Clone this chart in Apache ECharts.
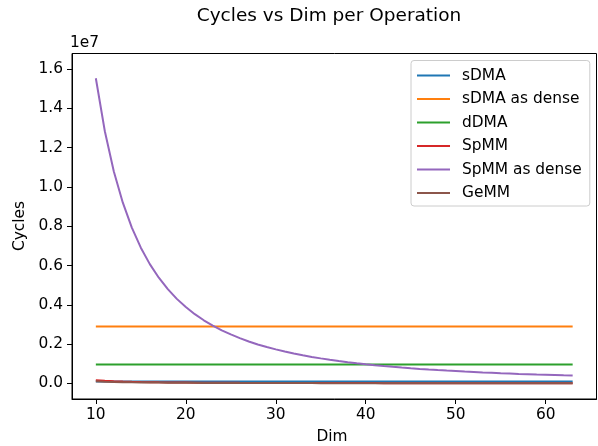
<!DOCTYPE html>
<html>
<head>
<meta charset="utf-8">
<script src="https://cdn.jsdelivr.net/npm/echarts@6/dist/echarts.min.js"></script>
<style>
  html, body { margin: 0; padding: 0; background: #fff; }
  #chart { width: 598px; height: 446px; }
</style>
</head>
<body>
<div id="chart"></div>
<script>
// dims on the x axis
var dims = [
    10, 11, 12, 13, 14, 15, 16, 17, 18,
    19, 20, 21, 22, 23, 24, 25, 26, 27,
    28, 29, 30, 31, 32, 33, 34, 35, 36,
    37, 38, 39, 40, 41, 42, 43, 44, 45,
    46, 47, 48, 49, 50, 51, 52, 53, 54,
    55, 56, 57, 58, 59, 60, 61, 62, 63
];

// cycles
var sdma = [
    9e4, 9e4, 9e4, 9e4, 9e4, 9e4, 9e4, 9e4, 9e4,
    9e4, 9e4, 9e4, 9e4, 9e4, 9e4, 9e4, 9e4, 9e4,
    9e4, 9e4, 9e4, 9e4, 9e4, 9e4, 9e4, 9e4, 9e4,
    9e4, 9e4, 9e4, 9e4, 9e4, 9e4, 9e4, 9e4, 9e4,
    9e4, 9e4, 9e4, 9e4, 9e4, 9e4, 9e4, 9e4, 9e4,
    9e4, 9e4, 9e4, 9e4, 9e4, 9e4, 9e4, 9e4, 9e4
];
var sdmaDense = [
    2.89e6, 2.89e6, 2.89e6, 2.89e6, 2.89e6, 2.89e6, 2.89e6, 2.89e6, 2.89e6,
    2.89e6, 2.89e6, 2.89e6, 2.89e6, 2.89e6, 2.89e6, 2.89e6, 2.89e6, 2.89e6,
    2.89e6, 2.89e6, 2.89e6, 2.89e6, 2.89e6, 2.89e6, 2.89e6, 2.89e6, 2.89e6,
    2.89e6, 2.89e6, 2.89e6, 2.89e6, 2.89e6, 2.89e6, 2.89e6, 2.89e6, 2.89e6,
    2.89e6, 2.89e6, 2.89e6, 2.89e6, 2.89e6, 2.89e6, 2.89e6, 2.89e6, 2.89e6,
    2.89e6, 2.89e6, 2.89e6, 2.89e6, 2.89e6, 2.89e6, 2.89e6, 2.89e6, 2.89e6
];
var ddma = [
    9.6e5, 9.6e5, 9.6e5, 9.6e5, 9.6e5, 9.6e5, 9.6e5, 9.6e5, 9.6e5,
    9.6e5, 9.6e5, 9.6e5, 9.6e5, 9.6e5, 9.6e5, 9.6e5, 9.6e5, 9.6e5,
    9.6e5, 9.6e5, 9.6e5, 9.6e5, 9.6e5, 9.6e5, 9.6e5, 9.6e5, 9.6e5,
    9.6e5, 9.6e5, 9.6e5, 9.6e5, 9.6e5, 9.6e5, 9.6e5, 9.6e5, 9.6e5,
    9.6e5, 9.6e5, 9.6e5, 9.6e5, 9.6e5, 9.6e5, 9.6e5, 9.6e5, 9.6e5,
    9.6e5, 9.6e5, 9.6e5, 9.6e5, 9.6e5, 9.6e5, 9.6e5, 9.6e5, 9.6e5
];
var spmm = [
    150000, 124000, 104000, 89000, 77000, 67000, 59000, 52000, 46000,
    42000, 38000, 34000, 31000, 28000, 26000, 24000, 22000, 21000,
    19000, 18000, 17000, 16000, 15000, 14000, 13000, 12000, 12000,
    11000, 10000, 10000, 9000, 9000, 8000, 8000, 8000, 7000,
    7000, 7000, 6000, 6000, 6000, 6000, 5000, 5000, 5000,
    5000, 5000, 4000, 4000, 4000, 4000, 4000, 4000, 4000
];
var spmmDense = [
    15.54e6, 12.84e6, 10.79e6, 9.20e6, 7.93e6, 6.91e6, 6.07e6, 5.38e6, 4.80e6,
    4.30e6, 3.885e6, 3.52e6, 3.21e6, 2.94e6, 2.70e6, 2.49e6, 2.30e6, 2.13e6,
    1.98e6, 1.85e6, 1.727e6, 1.617e6, 1.518e6, 1.427e6, 1.344e6, 1.269e6, 1.199e6,
    1.135e6, 1.076e6, 1.022e6, 0.971e6, 0.924e6, 0.881e6, 0.840e6, 0.803e6, 0.767e6,
    0.734e6, 0.703e6, 0.674e6, 0.647e6, 0.622e6, 0.597e6, 0.575e6, 0.553e6, 0.533e6,
    0.514e6, 0.496e6, 0.478e6, 0.462e6, 0.446e6, 0.432e6, 0.418e6, 0.404e6, 0.392e6
];
var gemm = [
    100000, 83000, 69000, 59000, 51000, 44000, 39000, 35000, 31000,
    28000, 25000, 23000, 21000, 19000, 17000, 16000, 15000, 14000,
    13000, 12000, 11000, 10000, 10000, 9000, 9000, 8000, 8000,
    7000, 7000, 7000, 6000, 6000, 6000, 5000, 5000, 5000,
    5000, 4000, 4000, 4000, 4000, 4000, 4000, 3000, 3000,
    3000, 3000, 3000, 3000, 3000, 3000, 3000, 3000, 2000
];

var names = ['sDMA', 'sDMA as dense', 'dDMA', 'SpMM', 'SpMM as dense', 'GeMM'];
var colors = ['#1f77b4', '#ff7f0e', '#2ca02c', '#d62728', '#9467bd', '#8c564b'];
var xTicks = [10, 20, 30, 40, 50, 60];
var yTicks = [0, 2e6, 4e6, 6e6, 8e6, 10e6, 12e6, 14e6, 16e6];

var allValues = [sdma, sdmaDense, ddma, spmm, spmmDense, gemm];

function pairs(vals) {
    return dims.map(function (d, i) { return [d, vals[i]]; });
}

var series = allValues.map(function (vals, i) {
    return {
        name: names[i],
        type: 'line',
        data: pairs(vals),
        symbol: 'none',
        showSymbol: false,
        lineStyle: { width: 2, color: colors[i] },
        itemStyle: { color: colors[i] }
    };
});

var font = 'DejaVu Sans';
var fs = 15.4;
var chart = echarts.init(document.getElementById('chart'));
chart.setOption({
    animation: false,
    color: colors,
    grid: {
        left: 72, right: 1.5, top: 53.5, bottom: 47,
        show: true, borderColor: '#000', borderWidth: 1, backgroundColor: 'transparent'
    },
    xAxis: {
        type: 'value',
        min: 7.35,
        max: 65.65,
        axisLine: { show: true, onZero: false, lineStyle: { color: '#000', width: 1 } },
        axisTick: { show: true, customValues: xTicks, length: 5, lineStyle: { color: '#000' } },
        axisLabel: {
            customValues: xTicks, margin: 8, color: '#000',
            fontFamily: font, fontSize: fs
        },
        splitLine: { show: false }
    },
    yAxis: {
        type: 'value',
        min: -0.8e6,
        max: 16.8e6,
        axisLine: { show: true, onZero: false, lineStyle: { color: '#000', width: 1 } },
        axisTick: { show: true, customValues: yTicks, length: 5, lineStyle: { color: '#000' } },
        axisLabel: {
            customValues: yTicks, margin: 9, color: '#000',
            fontFamily: font, fontSize: fs,
            formatter: function (v) { return (v / 1e7).toFixed(1); }
        },
        splitLine: { show: false }
    },
    legend: {
        data: names,
        orient: 'vertical',
        left: 411,
        top: 60.5,
        padding: [6, 8, 4, 6],
        itemWidth: 33,
        itemHeight: 2,
        itemGap: 5.5,
        icon: 'rect',
        borderColor: '#cccccc',
        borderWidth: 1,
        borderRadius: 3,
        backgroundColor: 'rgba(255,255,255,0.8)',
        textStyle: {
            color: '#000', fontFamily: font, fontSize: fs,
            lineHeight: 18, padding: [0, 0, 0, 7]
        }
    },
    graphic: [
        {
            type: 'text', x: 329, y: 16, z: 10,
            style: {
                text: 'Cycles vs Dim per Operation', fill: '#000',
                font: '18.5px "DejaVu Sans"', textAlign: 'center', textVerticalAlign: 'middle'
            }
        },
        {
            type: 'text', x: 70, y: 43,
            style: {
                text: '1e7', fill: '#000',
                font: fs + 'px "DejaVu Sans"', textAlign: 'left', textVerticalAlign: 'middle'
            }
        },
        {
            type: 'text', x: 332, y: 437,
            style: {
                text: 'Dim', fill: '#000',
                font: fs + 'px "DejaVu Sans"', textAlign: 'center', textVerticalAlign: 'middle'
            }
        },
        {
            type: 'text', x: 20, y: 226, rotation: Math.PI / 2,
            style: {
                text: 'Cycles', fill: '#000',
                font: fs + 'px "DejaVu Sans"', textAlign: 'center', textVerticalAlign: 'middle'
            }
        }
    ],
    series: series
});
</script>
</body>
</html>
